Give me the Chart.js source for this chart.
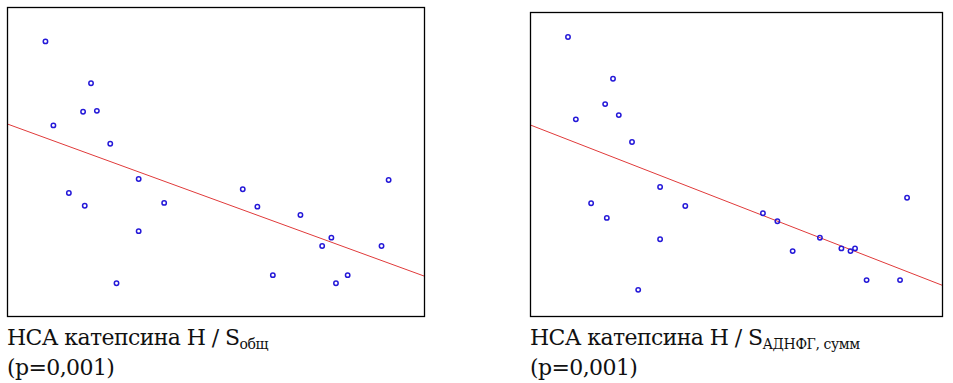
<!DOCTYPE html>
<html>
<head>
<meta charset="utf-8">
<script src="https://cdn.jsdelivr.net/npm/chart.js@4/dist/chart.umd.min.js"></script>
<style>
  body { margin: 0; background: #fff; width: 953px; height: 383px; position: relative; overflow: hidden; }
  canvas { position: absolute; }
  .cap { position: absolute; font-family: "DejaVu Serif", serif; font-size: 22px; letter-spacing: -0.6px; line-height: 28px; color: #111; white-space: nowrap; }
  .cap sub { font-size: 14px; letter-spacing: -0.4px; vertical-align: baseline; position: relative; top: 4px; }
</style>
</head>
<body>
<canvas id="chartLeft" width="420" height="312" style="left:6px;top:6px"></canvas>
<canvas id="chartRight" width="415" height="307" style="left:529px;top:11px"></canvas>
<div class="cap" style="left:7px;top:324px">НСА катепсина Н / S<sub>общ</sub><br>(p=0,001)</div>
<div class="cap" style="left:530px;top:324px">НСА катепсина Н / S<sub>АДНФГ, сумм</sub><br>(p=0,001)</div>
<script>
// x values shared by both panels (same variable), arbitrary units 0..100
let x_vals = [9.2, 11.1, 20.1, 18.2, 21.5, 24.7, 14.8, 18.6, 31.5, 31.5, 26.2,
              37.6, 56.4, 59.9, 70.2, 77.6, 75.4, 63.6, 78.7, 81.5, 89.6, 91.3];
let y_left = [88.9, 61.8, 75.4, 66.2, 66.5, 55.9, 40.0, 35.9, 44.5, 27.7, 10.9,
              36.8, 41.2, 35.6, 32.9, 25.6, 22.9, 13.5, 10.9, 13.5, 22.9, 44.2];
let y_right = [91.8, 64.8, 78.1, 69.8, 66.2, 57.4, 37.3, 32.5, 42.6, 25.5, 8.9,
               36.4, 34.0, 31.4, 26.0, 21.6, 22.5, 21.6, 22.5, 12.1, 12.1, 39.1];
// regression line ends at x=0 and x=100
let fit_left = [62.3, 13.1];
let fit_right = [63.0, 10.3];

const boxPlugin = {
    id: "box",
    afterDraw(chart) {
        const a = chart.chartArea;
        const ctx = chart.ctx;
        ctx.save();
        ctx.strokeStyle = "#000";
        ctx.lineWidth = 1.3;
        ctx.strokeRect(a.left + 0.5, a.top + 0.5, a.right - a.left - 1, a.bottom - a.top - 1);
        ctx.restore();
    }
};

function makeChart(id, ys, fit) {
    const pts = x_vals.map((x, i) => ({ x: x, y: ys[i] }));
    new Chart(document.getElementById(id).getContext("2d"), {
        type: "scatter",
        data: {
            datasets: [{
                data: pts,
                pointStyle: "circle",
                pointRadius: 2.2,
                pointBorderWidth: 1.5,
                borderColor: "#2418d8",
                backgroundColor: "rgba(0,0,0,0)"
            }, {
                type: "line",
                data: [{ x: 0, y: fit[0] }, { x: 100, y: fit[1] }],
                borderColor: "#e03a3a",
                borderWidth: 1,
                pointRadius: 0,
                fill: false
            }]
        },
        options: {
            responsive: false,
            animation: false,
            layout: { padding: 1, autoPadding: false },
            plugins: { legend: { display: false }, tooltip: { enabled: false } },
            scales: {
                x: { type: "linear", min: 0, max: 100, display: false },
                y: { type: "linear", min: 0, max: 100, display: false }
            }
        },
        plugins: [boxPlugin]
    });
}

document.addEventListener("DOMContentLoaded", function () {
    makeChart("chartLeft", y_left, fit_left);
    makeChart("chartRight", y_right, fit_right);
});
</script>
</body>
</html>
